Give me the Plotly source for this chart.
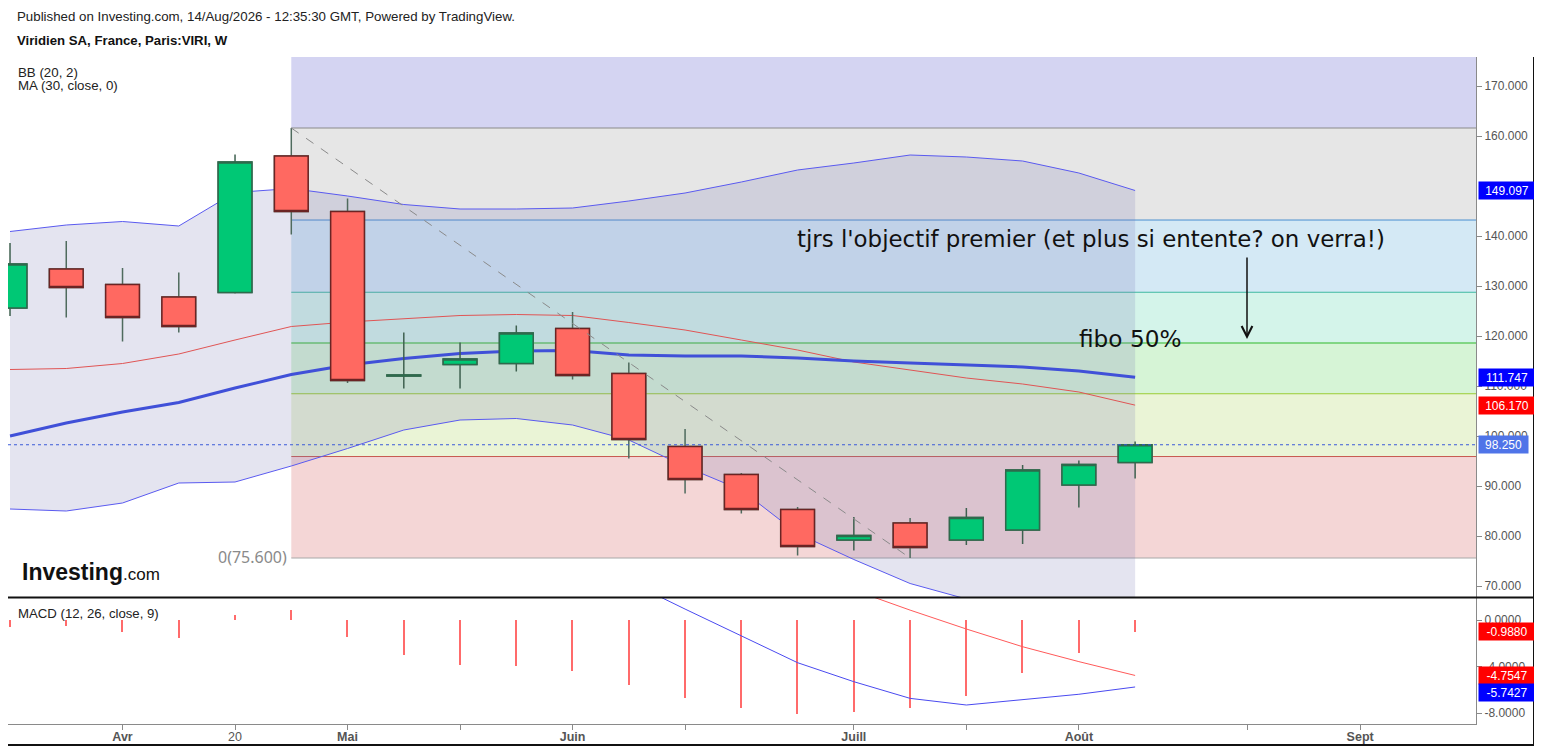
import plotly.graph_objects as go

# weekly candles, Viridien SA (Paris:VIRI)
dates = ["2026-03-23", "2026-03-30", "2026-04-06", "2026-04-13", "2026-04-20", "2026-04-27",
         "2026-05-04", "2026-05-11", "2026-05-18", "2026-05-25", "2026-06-01", "2026-06-08",
         "2026-06-15", "2026-06-22", "2026-06-29", "2026-07-06", "2026-07-13", "2026-07-20",
         "2026-07-27", "2026-08-03", "2026-08-10"]
opens = [125.6, 133.4, 130.3, 127.8, 128.7, 156.0, 144.9, 112.0, 114.3, 114.5, 121.5, 112.5,
         97.9, 92.3, 85.3, 79.2, 82.6, 79.2, 81.2, 90.2, 94.7]
highs = [138.6, 139.0, 133.6, 132.7, 156.3, 161.6, 147.5, 120.7, 118.7, 122.1, 124.8, 114.7,
         101.4, 92.6, 85.8, 83.8, 83.6, 85.6, 94.2, 95.1, 98.9]
lows = [124.0, 123.7, 118.9, 120.7, 128.5, 140.3, 110.6, 109.5, 109.5, 112.9, 111.3, 95.5,
        88.5, 84.5, 76.1, 77.1, 75.6, 78.2, 78.4, 85.7, 91.5]
closes = [134.4, 129.7, 123.7, 121.9, 154.8, 144.9, 111.1, 112.2, 115.4, 120.6, 112.1, 99.3,
          91.3, 85.3, 77.9, 80.1, 77.7, 83.7, 93.2, 94.3, 98.25]

# Bollinger (20, 2) and MA (30)
bb_upper = [140.9, 142.2, 142.9, 142.0, 148.7, 149.5, 148.0, 146.3, 145.4, 145.4, 145.6, 147.0,
            148.6, 150.8, 153.2, 154.6, 156.2, 155.8, 155.0, 152.6, 149.097]
bb_mid = [113.3, 113.5, 114.5, 116.4, 119.2, 121.9, 122.8, 123.5, 124.1, 124.3, 124.1, 122.7,
          121.2, 119.2, 117.2, 114.8, 113.2, 111.6, 110.4, 108.8, 106.17]
bb_lower = [85.4, 85.0, 86.6, 90.6, 90.8, 94.0, 97.5, 101.2, 103.2, 103.5, 102.2, 99.2,
            93.9, 89.2, 80.5, 75.3, 70.5, 67.4, 65.8, 65.0, 63.2]
ma30 = [100.0, 102.6, 104.8, 106.7, 109.6, 112.3, 114.2, 115.5, 116.5, 117.0, 117.1, 116.2,
        116.0, 116.0, 115.6, 115.0, 114.6, 114.2, 113.8, 113.0, 111.747]

# MACD (12, 26, close, 9)
macd = [10.5, 10.2, 9.6, 8.9, 9.5, 10.0, 8.6, 7.2, 6.3, 5.6, 4.6, 3.3, 0.94, -1.37, -3.66,
        -5.29, -6.72, -7.29, -6.86, -6.37, -5.7427]
signal = [11.07, 10.75, 10.63, 10.41, 9.1, 9.17, 10.03, 10.17, 10.16, 9.55, 9.0, 8.87, 7.65,
          6.14, 4.4, 2.57, 0.85, -0.77, -2.29, -3.57, -4.7547]
hist = [-0.57, -0.55, -1.03, -1.51, 0.4, 0.83, -1.43, -2.97, -3.86, -3.95, -4.4, -5.57, -6.71,
        -7.51, -8.06, -7.86, -7.57, -6.52, -4.57, -2.8, -0.988]

# fibonacci retracement drawn from the week-5 high to the week-16 low
fib_ratios = [0, 0.236, 0.382, 0.5, 0.618, 0.786, 1, 1.618]
fib_fills = ["#f4d6d6", "#eaf4d6", "#d6f4d6", "#d4f4ea", "#d4e9f5", "#e6e6e6", "#d4d4f2"]
fib_lines = ["#a8a8a8", "#c85a50", "#99cc33", "#66cc66", "#3cb8a0", "#4a90d0", "#8a8a8a"]

x_tickvals = ["2026-04-06", "2026-04-20", "2026-05-04", "2026-05-18", "2026-06-01", "2026-06-15",
              "2026-07-06", "2026-07-20", "2026-08-03", "2026-08-24", "2026-09-07"]
x_ticktext = ["<b>Avr</b>", "20", "<b>Mai</b>", "", "<b>Juin</b>", "", "<b>Juill</b>", "",
              "<b>Août</b>", "", "<b>Sept</b>"]
# 150 sits under the 149.097 tag, so it's left out
price_ticks = [70, 80, 90, 100, 110, 120, 130, 140, 160, 170]
macd_ticks = [0, -4, -8]

# the page puts the figure 8px in from the top-left corner of the window
OFF = 8
W, H = 1542 - OFF, 751 - OFF
PL, PR, PT, PB = 8, 1476, 57, 724   # plot box in window pixels


def px_x(px):
    return (px - PL) / (PR - PL)


def px_y(py):
    return (PB - py) / (PB - PT)


def y_px(v):
    return 86 + (170 - v) * 5


def y2_px(v):
    return 620 - v * 11.66


fig = go.Figure()

# bollinger band fill + lines
fig.add_trace(go.Scatter(x=dates, y=bb_lower, mode="lines", line=dict(color="#5a5af0", width=1),
                         xaxis="x", yaxis="y", hoverinfo="skip"))
fig.add_trace(go.Scatter(x=dates, y=bb_upper, mode="lines", line=dict(color="#5a5af0", width=1),
                         fill="tonexty", fillcolor="rgba(120,120,180,0.2)",
                         xaxis="x", yaxis="y", hoverinfo="skip"))
fig.add_trace(go.Scatter(x=dates, y=bb_mid, mode="lines", line=dict(color="#e05555", width=1),
                         xaxis="x", yaxis="y"))
fig.add_trace(go.Scatter(x=dates, y=ma30, mode="lines", line=dict(color="#4050d8", width=3),
                         xaxis="x", yaxis="y"))

# candles on an overlaid axis pair so they sit above the bands
fig.add_trace(go.Candlestick(
    x=dates, open=opens, high=highs, low=lows, close=closes,
    increasing=dict(fillcolor="#00c875", line=dict(color="#3f6150", width=1.5)),
    decreasing=dict(fillcolor="#ff6961", line=dict(color="#4f6b5e", width=1.5)),
    whiskerwidth=0, xaxis="x3", yaxis="y3"))
body_hi = [max(o, c) for o, c in zip(opens, closes)]
body_lo = [min(o, c) for o, c in zip(opens, closes)]
fig.add_trace(go.Candlestick(
    x=dates, open=opens, high=body_hi, low=body_lo, close=closes,
    increasing=dict(fillcolor="#00c875", line=dict(color="#2e6a4c", width=1.5)),
    decreasing=dict(fillcolor="#ff6961", line=dict(color="#6b2424", width=1.5)),
    whiskerwidth=0, xaxis="x3", yaxis="y3"))

# MACD panel
fig.add_trace(go.Bar(x=dates, y=hist, marker=dict(color="#ff6b6b", line=dict(width=0)),
                     width=16000000, xaxis="x2", yaxis="y2"))
fig.add_trace(go.Scatter(x=dates, y=signal, mode="lines", line=dict(color="#ff5a5a", width=1),
                         xaxis="x2", yaxis="y2"))
fig.add_trace(go.Scatter(x=dates, y=macd, mode="lines", line=dict(color="#4a4af0", width=1),
                         xaxis="x2", yaxis="y2"))

shapes = []
# fib bands, from the swing high to the right edge
hi_i, lo_i = highs.index(max(highs)), lows.index(min(lows))
f_hi, f_lo = highs[hi_i], lows[lo_i]
levels = [f_lo + r * (f_hi - f_lo) for r in fib_ratios]
fib_end = "2026-09-25"
for k in range(len(fib_fills)):
    shapes.append(dict(type="rect", xref="x", yref="y", layer="below",
                       x0=dates[hi_i], x1=fib_end, y0=levels[k], y1=levels[k + 1],
                       fillcolor=fib_fills[k], line=dict(width=0)))
for k in range(len(fib_lines)):
    shapes.append(dict(type="line", xref="x", yref="y", layer="below",
                       x0=dates[hi_i], x1=fib_end, y0=levels[k], y1=levels[k],
                       line=dict(color=fib_lines[k], width=1.5 if k == 3 else 1)))

# trend line of the fib tool
shapes.append(dict(type="line", xref="x", yref="y", x0=dates[hi_i], y0=f_hi,
                   x1=dates[lo_i], y1=f_lo, line=dict(color="#8a8a8a", width=1, dash="dash")))
# last price dotted line
shapes.append(dict(type="line", xref="paper", yref="y", x0=0, x1=1, y0=closes[-1], y1=closes[-1],
                   line=dict(color="#3a5ad8", width=1, dash="dot")))
# panel frame
shapes.append(dict(type="line", xref="paper", yref="paper", x0=px_x(8), x1=px_x(1534),
                   y0=px_y(597.5), y1=px_y(597.5), line=dict(color="#111", width=2)))
shapes.append(dict(type="line", xref="paper", yref="paper", x0=px_x(8), x1=px_x(1534),
                   y0=px_y(745), y1=px_y(745), line=dict(color="#111", width=2)))
shapes.append(dict(type="line", xref="paper", yref="paper", x0=px_x(1534), x1=px_x(1534),
                   y0=px_y(745), y1=px_y(57), line=dict(color="#111", width=2)))

ann = []


def text(px, py, s, size=13.3, color="#222", family="Liberation Sans", anchor="left"):
    ann.append(dict(xref="paper", yref="paper", x=px_x(px), y=px_y(py), text=s, showarrow=False,
                    xanchor=anchor, yanchor="middle", font=dict(size=size, color=color, family=family)))


text(15, 17, "Published on Investing.com, 14/Aug/2026 - 12:35:30 GMT, Powered by TradingView.")
text(15, 40, "<b>Viridien SA, France, Paris:VIRI, W</b>", size=13.2, color="#111")
text(16, 73, "BB (20, 2)")
text(16, 86, "MA (30, close, 0)")
text(16, 613, "MACD (12, 26, close, 9)", size=13.2)
text(20, 572, "<b>Investing</b><span style='font-size:17px'>.com</span>", size=23, color="#111")
text(289, 557, "0(75.600)", size=16, color="#8a8a8a", family="Noto Sans", anchor="right")
text(795, 239, "tjrs l'objectif premier (et plus si entente? on verra!)", size=22.9, color="#111",
     family="DejaVu Sans")
text(1077, 339, "fibo 50%", size=23.2, color="#111", family="DejaVu Sans")

# arrow
ann.append(dict(xref="paper", yref="paper", x=px_x(1247), y=px_y(339), ax=0, ay=-83, text="",
                showarrow=True, arrowhead=5, arrowsize=1.4, arrowwidth=1.5, arrowcolor="#111"))


def tag(py, s, bg, w=54):
    ann.append(dict(xref="paper", yref="paper", x=px_x(1478), y=px_y(py), text=s, showarrow=False,
                    xanchor="left", yanchor="middle", bgcolor=bg, width=w, height=15, borderpad=1,
                    align="center", font=dict(size=12, color="white", family="Liberation Sans")))


tag(y_px(bb_upper[-1]), "149.097", "#0000ff")
tag(y_px(ma30[-1]), "111.747", "#0000ff")
tag(y_px(bb_mid[-1]), "106.170", "#ff0000")
tag(y_px(closes[-1]), "98.250", "#4f74e8", w=47)
tag(y2_px(hist[-1]), "-0.9880", "#ff0000")
tag(y2_px(signal[-1]), "-4.7547", "#ff0000")
tag(y2_px(signal[-1]) + 17.5, "-5.7427", "#0000ff")

main_bottom = px_y(597)
macd_top = px_y(598)
x_range = ["2026-03-22 18:00", "2026-09-21 10:00"]
y_range = [67.8, 175.8]
tick_font = dict(size=12, color="#555", family="Liberation Sans")

fig.update_layout(
    width=W, height=H,
    margin=dict(l=PL - OFF, r=W - (PR - OFF), t=PT - OFF, b=H - (PB - OFF), autoexpand=False),
    paper_bgcolor="white", plot_bgcolor="white",
    showlegend=False, boxgap=0.4, boxgroupgap=0, bargap=0,
    shapes=shapes, annotations=ann,
    xaxis=dict(domain=[0, 1], anchor="y", range=x_range, showticklabels=False, showgrid=False,
               zeroline=False, showline=False, type="date"),
    yaxis=dict(domain=[main_bottom, 1], anchor="x", side="right", range=y_range, showgrid=False,
               zeroline=False, showline=True, linecolor="#8a8a8a", linewidth=1,
               tickvals=price_ticks, ticktext=["%.3f" % v for v in price_ticks],
               ticks="outside", ticklen=5, tickcolor="#8a8a8a", tickfont=tick_font),
    xaxis3=dict(overlaying="x", anchor="y3", range=x_range, type="date", visible=False,
                rangeslider=dict(visible=False)),
    yaxis3=dict(overlaying="y", anchor="x3", range=y_range, visible=False),
    xaxis2=dict(domain=[0, 1], anchor="y2", range=x_range, showgrid=False,
                zeroline=False, showline=True, linecolor="#8a8a8a", linewidth=1, type="date",
                tickvals=x_tickvals, ticktext=x_ticktext, ticks="outside", ticklen=5,
                ticklabelstandoff=-4, tickcolor="#8a8a8a",
                tickfont=dict(size=12.5, color="#555", family="Liberation Sans")),
    yaxis2=dict(domain=[0, macd_top], anchor="x2", side="right", range=[-8.92, 1.89],
                showgrid=False, zeroline=False, showline=True, linecolor="#8a8a8a", linewidth=1,
                tickvals=macd_ticks, ticktext=["%.4f" % v for v in macd_ticks],
                ticks="outside", ticklen=5, tickcolor="#8a8a8a", tickfont=tick_font),
)

fig.write_html("out.html")
